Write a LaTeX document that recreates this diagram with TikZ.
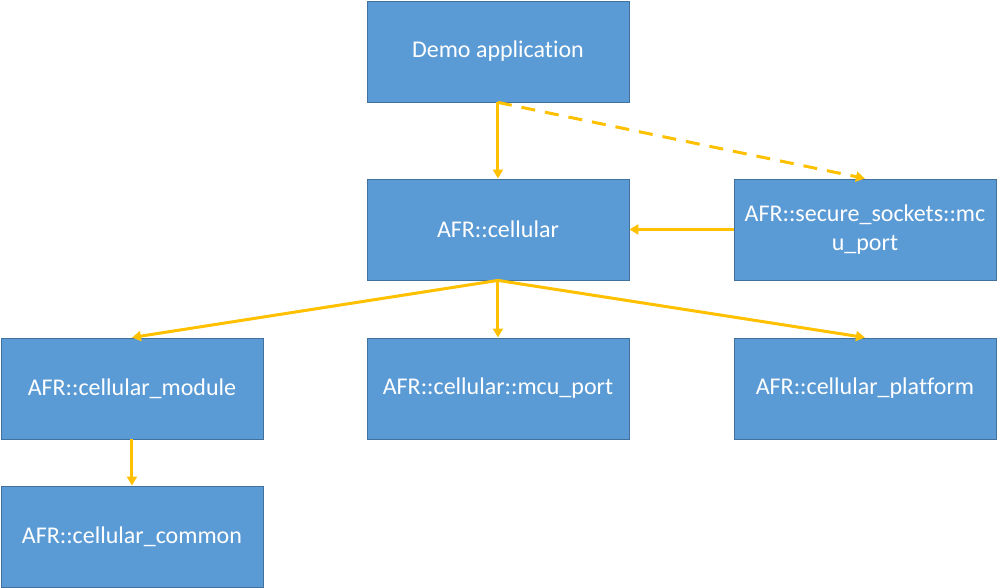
\documentclass[tikz,border=0pt]{standalone}
\usepackage{fontspec}
\setmainfont{Carlito}[Ligatures=NoCommon]
\usetikzlibrary{arrows.meta}
\definecolor{boxfill}{HTML}{5B9BD5}
\definecolor{boxline}{HTML}{41719C}
\definecolor{arr}{HTML}{FFC000}
\begin{document}
\begin{tikzpicture}[x=1pt,y=-1pt,
  box/.style={draw=boxline,fill=boxfill,line width=0.9pt,minimum width=262pt,minimum height=101pt,inner sep=0pt,text=white,font=\fontsize{24}{29}\selectfont,align=center,anchor=north west},
  conn/.style={draw=arr,line width=3pt,-{Triangle[length=9pt,width=10pt]}},
  dconn/.style={conn,dash pattern=on 14pt off 10pt}]
\useasboundingbox (0,0) rectangle (997,587);
\node[box] (demo) at (366.5,0.5) {Demo application};
\node[box] (cell) at (366.5,178.5) {AFR::cellular};
\node[box] (sec) at (733.5,178.5) {AFR::secure\_sockets::mc\\u\_port};
\node[box] (mod) at (0.5,337.5) {AFR::cellular\_module};
\node[box] (mcu) at (366.5,337.5) {AFR::cellular::mcu\_port};
\node[box] (plat) at (733.5,337.5) {AFR::cellular\_platform};
\node[box] (com) at (0.5,485.5) {AFR::cellular\_common};
\draw[conn] (demo.south) -- (cell.north);
\draw[dconn] (demo.south) -- (sec.north);
\draw[conn] (sec.west) -- (cell.east);
\draw[conn] (cell.south) -- (mod.north);
\draw[conn] (cell.south) -- (mcu.north);
\draw[conn] (cell.south) -- (plat.north);
\draw[conn] (mod.south) -- (com.north);
\end{tikzpicture}
\end{document}
